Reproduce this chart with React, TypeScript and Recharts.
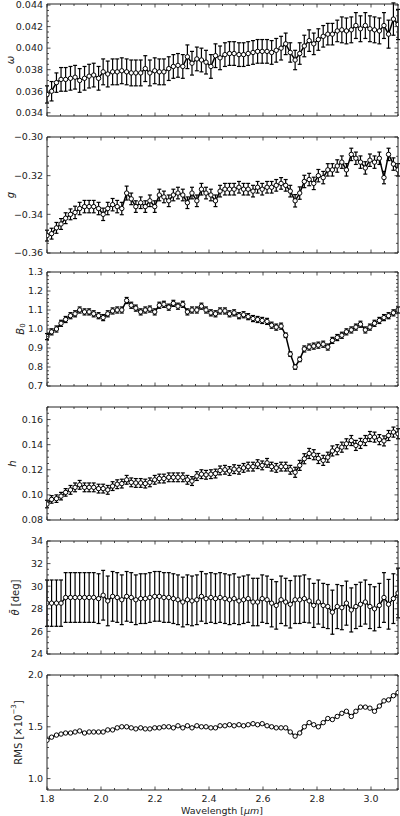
import React from "react";
import { LineChart, Line, XAxis, YAxis, ErrorBar } from "recharts";

// wavelength grid (µm)
const wavelength = [
  1.8, 1.817, 1.835, 1.852, 1.869, 1.887, 1.904, 1.921, 1.939, 1.956,
  1.973, 1.991, 2.008, 2.025, 2.043, 2.06, 2.077, 2.095, 2.112, 2.129,
  2.147, 2.164, 2.181, 2.199, 2.216, 2.233, 2.251, 2.268, 2.285, 2.303,
  2.32, 2.337, 2.355, 2.372, 2.389, 2.407, 2.424, 2.441, 2.459, 2.476,
  2.493, 2.511, 2.528, 2.545, 2.563, 2.58, 2.597, 2.615, 2.632, 2.649,
  2.667, 2.684, 2.701, 2.719, 2.736, 2.753, 2.771, 2.788, 2.805, 2.823,
  2.84, 2.857, 2.875, 2.892, 2.909, 2.927, 2.944, 2.961, 2.979, 2.996,
  3.013, 3.031, 3.048, 3.065, 3.083, 3.1,
];

const omega = [
  0.0357, 0.036, 0.0368, 0.0371, 0.0371, 0.0372, 0.0373, 0.037, 0.0372, 0.0374,
  0.0375, 0.0372, 0.0378, 0.0376, 0.0378, 0.0378, 0.0379, 0.0378, 0.0377, 0.0377,
  0.0377, 0.0381, 0.0377, 0.0379, 0.0378, 0.0378, 0.0381, 0.0383, 0.0384, 0.0383,
  0.0392, 0.0386, 0.039, 0.0389, 0.0387, 0.0383, 0.0393, 0.0391, 0.0394, 0.0395,
  0.0395, 0.0394, 0.0394, 0.0395, 0.0396, 0.0397, 0.0397, 0.0397, 0.0396, 0.0398,
  0.04, 0.0404, 0.0396, 0.0389, 0.0395, 0.0402, 0.0407, 0.0404, 0.0408, 0.0411,
  0.0413, 0.0413, 0.0416, 0.0417, 0.0416, 0.0417, 0.0421, 0.0418, 0.0421, 0.0418,
  0.0417, 0.0416, 0.0421, 0.0413, 0.0427, 0.0422,
];
const omegaErr = [
  0.0008, 0.0009, 0.0009, 0.0011, 0.0011, 0.0011, 0.0011, 0.0011, 0.0011, 0.0011,
  0.0011, 0.0011, 0.0012, 0.0012, 0.0012, 0.0012, 0.0012, 0.0012, 0.0012, 0.0012,
  0.0012, 0.0012, 0.0012, 0.0012, 0.0012, 0.0012, 0.0011, 0.0011, 0.0011, 0.0011,
  0.0011, 0.0011, 0.0011, 0.0011, 0.0011, 0.0011, 0.0011, 0.0011, 0.0011, 0.0011,
  0.0011, 0.0011, 0.0011, 0.0011, 0.0011, 0.0011, 0.0011, 0.0011, 0.0011, 0.0011,
  0.0011, 0.001, 0.0009, 0.0009, 0.001, 0.001, 0.001, 0.001, 0.001, 0.001,
  0.001, 0.001, 0.001, 0.0012, 0.0012, 0.0012, 0.0012, 0.0012, 0.0012, 0.0012,
  0.0012, 0.0012, 0.0012, 0.0013, 0.0015, 0.0014,
];

const gParam = [
  -0.351, -0.35, -0.347, -0.345, -0.342, -0.34, -0.339, -0.337, -0.336, -0.336,
  -0.336, -0.337, -0.34, -0.337, -0.335, -0.336, -0.337, -0.329, -0.332, -0.336,
  -0.334, -0.336, -0.333, -0.336, -0.33, -0.331, -0.333, -0.33, -0.329, -0.33,
  -0.334, -0.329, -0.333, -0.327, -0.329, -0.33, -0.333, -0.328, -0.327, -0.327,
  -0.327, -0.326, -0.327, -0.327, -0.328, -0.326, -0.327, -0.326, -0.326, -0.325,
  -0.324, -0.325, -0.328, -0.333, -0.329, -0.323, -0.322, -0.324, -0.32, -0.321,
  -0.317, -0.317, -0.315, -0.313, -0.317, -0.309, -0.311, -0.313, -0.316, -0.312,
  -0.313, -0.311, -0.321, -0.309, -0.314, -0.317,
];
const gErr = [
  0.0028, 0.0028, 0.0028, 0.0028, 0.0028, 0.0028, 0.0032, 0.0032, 0.0032, 0.0032,
  0.0032, 0.0032, 0.0032, 0.0032, 0.0032, 0.0032, 0.0032, 0.0036, 0.003, 0.003,
  0.003, 0.003, 0.003, 0.003, 0.003, 0.003, 0.003, 0.003, 0.003, 0.003,
  0.003, 0.003, 0.003, 0.003, 0.003, 0.003, 0.003, 0.003, 0.003, 0.003,
  0.003, 0.003, 0.003, 0.003, 0.003, 0.003, 0.003, 0.003, 0.003, 0.003,
  0.003, 0.003, 0.003, 0.0032, 0.0032, 0.0032, 0.0032, 0.0032, 0.0032, 0.0032,
  0.0032, 0.0032, 0.0032, 0.0032, 0.0032, 0.0032, 0.0032, 0.0032, 0.0032, 0.0032,
  0.0032, 0.0032, 0.0032, 0.0032, 0.0032, 0.0032,
];

const b0 = [
  0.96, 0.985, 1.0, 1.03, 1.05, 1.07, 1.08, 1.1, 1.09, 1.09,
  1.08, 1.07, 1.06, 1.08, 1.095, 1.1, 1.1, 1.15, 1.125, 1.11,
  1.09, 1.1, 1.105, 1.09, 1.125, 1.13, 1.115, 1.135, 1.12, 1.13,
  1.09, 1.1, 1.1, 1.12, 1.1, 1.085, 1.08, 1.095, 1.095, 1.08,
  1.085, 1.07, 1.075, 1.065, 1.055, 1.05, 1.045, 1.04, 1.02, 1.01,
  1.015, 0.967, 0.868, 0.8, 0.84, 0.895, 0.905, 0.91, 0.915, 0.92,
  0.905, 0.94, 0.955, 0.967, 0.985, 0.995, 1.01, 1.025, 0.995, 1.01,
  1.03, 1.045, 1.06, 1.07, 1.085, 1.1,
];
const b0Err = [
  0.016, 0.016, 0.016, 0.016, 0.016, 0.016, 0.016, 0.016, 0.016, 0.016,
  0.016, 0.016, 0.016, 0.016, 0.016, 0.016, 0.016, 0.016, 0.016, 0.016,
  0.016, 0.016, 0.016, 0.016, 0.016, 0.016, 0.016, 0.016, 0.016, 0.016,
  0.016, 0.016, 0.016, 0.016, 0.016, 0.016, 0.016, 0.016, 0.016, 0.016,
  0.016, 0.016, 0.016, 0.016, 0.016, 0.016, 0.016, 0.016, 0.016, 0.016,
  0.016, 0.012, 0.012, 0.012, 0.012, 0.016, 0.016, 0.016, 0.016, 0.016,
  0.016, 0.016, 0.016, 0.016, 0.016, 0.016, 0.016, 0.016, 0.016, 0.016,
  0.016, 0.016, 0.016, 0.016, 0.016, 0.016,
];

const hParam = [
  0.0927, 0.0964, 0.097, 0.099, 0.102, 0.104, 0.106, 0.108, 0.106, 0.106,
  0.106, 0.105, 0.105, 0.104, 0.107, 0.1085, 0.109, 0.112, 0.11, 0.1095,
  0.1095, 0.109, 0.11, 0.112, 0.113, 0.113, 0.114, 0.114, 0.114, 0.114,
  0.112, 0.111, 0.115, 0.1165, 0.116, 0.1165, 0.117, 0.1195, 0.12, 0.119,
  0.1205, 0.12, 0.1215, 0.1225, 0.1225, 0.1245, 0.1235, 0.1255, 0.1225, 0.1215,
  0.1225, 0.1225, 0.12, 0.118, 0.1235, 0.1288, 0.133, 0.132, 0.129, 0.1275,
  0.13, 0.135, 0.136, 0.138, 0.1407, 0.1433, 0.1394, 0.141, 0.1433, 0.1465,
  0.146, 0.144, 0.143, 0.1473, 0.15, 0.1487,
];
const hErr = [
  0.003, 0.003, 0.003, 0.003, 0.003, 0.0035, 0.0035, 0.0035, 0.0035, 0.0035,
  0.0035, 0.0035, 0.0035, 0.0035, 0.0035, 0.0035, 0.0035, 0.0035, 0.0035, 0.0035,
  0.0035, 0.0035, 0.0035, 0.0035, 0.0035, 0.0035, 0.0035, 0.0035, 0.0035, 0.0035,
  0.0035, 0.0035, 0.0035, 0.0035, 0.0035, 0.0035, 0.0035, 0.0035, 0.0035, 0.0035,
  0.0035, 0.0035, 0.0035, 0.0035, 0.0035, 0.0035, 0.0035, 0.0035, 0.0035, 0.0035,
  0.0035, 0.0035, 0.0035, 0.004, 0.004, 0.004, 0.004, 0.004, 0.004, 0.004,
  0.004, 0.004, 0.004, 0.004, 0.004, 0.004, 0.004, 0.004, 0.004, 0.004,
  0.004, 0.004, 0.004, 0.004, 0.004, 0.004,
];

const theta = [
  28.5, 28.5, 28.5, 28.5, 29.0, 29.0, 29.0, 29.0, 29.0, 29.0,
  29.0, 28.9, 29.2, 28.7, 29.1, 29.0, 28.8, 29.1, 29.0, 28.8,
  28.9, 28.9, 29.0, 29.1, 29.1, 29.0, 29.0, 28.9, 28.8, 28.6,
  28.8, 28.7, 28.8, 29.1, 28.9, 29.0, 28.9, 29.0, 28.9, 28.8,
  28.9, 28.7, 28.8, 28.9, 28.6, 28.6, 28.9, 28.8, 28.5, 28.3,
  28.8, 28.6, 28.4, 28.8, 28.8, 28.9, 28.7, 28.3, 28.6, 28.3,
  28.2, 27.7, 28.2, 28.1, 28.5, 27.9, 28.2, 28.4, 28.6, 28.2,
  28.0, 28.3, 29.0, 28.4, 28.9, 29.4,
];
const thetaErr = [
  2.05, 2.05, 2.05, 2.05, 2.2, 2.2, 2.2, 2.2, 2.2, 2.2,
  2.2, 2.2, 2.2, 2.2, 2.2, 2.2, 2.2, 2.2, 2.2, 2.2,
  2.2, 2.2, 2.2, 2.2, 2.2, 2.2, 2.2, 2.2, 2.2, 2.2,
  2.2, 2.2, 2.2, 2.2, 2.2, 2.2, 2.2, 2.2, 2.2, 2.2,
  2.2, 2.1, 2.1, 2.1, 2.1, 2.1, 2.1, 2.1, 2.1, 2.1,
  2.1, 2.1, 2.1, 2.1, 2.1, 2.1, 1.95, 1.95, 1.95, 1.95,
  1.95, 1.95, 1.95, 1.95, 1.95, 1.95, 1.95, 1.95, 1.95, 1.95,
  1.95, 1.95, 2.2, 2.2, 2.2, 2.2,
];

// RMS in units of 1e-3
const rms = [
  1.37, 1.4, 1.42, 1.43, 1.44, 1.44, 1.45, 1.46, 1.44, 1.45,
  1.45, 1.45, 1.45, 1.47, 1.47, 1.49, 1.5, 1.5, 1.49, 1.48,
  1.49, 1.48, 1.48, 1.49, 1.49, 1.5, 1.5, 1.49, 1.51, 1.49,
  1.51, 1.49, 1.51, 1.5, 1.5, 1.49, 1.49, 1.51, 1.51, 1.52,
  1.51, 1.52, 1.51, 1.52, 1.53, 1.52, 1.53, 1.51, 1.5, 1.49,
  1.49, 1.49, 1.45, 1.41, 1.44, 1.5, 1.54, 1.52, 1.5, 1.54,
  1.58, 1.57, 1.6, 1.63, 1.65, 1.6, 1.65, 1.69, 1.69, 1.68,
  1.65, 1.7, 1.75, 1.76, 1.8, 1.83,
];

const rows = wavelength.map((wl, i) => ({
  wl,
  omega: omega[i],
  omegaErr: omegaErr[i],
  g: gParam[i],
  gErr: gErr[i],
  b0: b0[i],
  b0Err: b0Err[i],
  h: hParam[i],
  hErr: hErr[i],
  theta: theta[i],
  thetaErr: thetaErr[i],
  rms: rms[i],
}));

const FONT = "'DejaVu Sans', sans-serif";
const INK = "#222";

const steps = (a: number, b: number, s: number) => {
  const n = Math.round((b - a) / s);
  return Array.from({ length: n + 1 }, (_, i) => Number((a + i * s).toFixed(6)));
};

const xMajor = steps(1.8, 3.0, 0.2);
const xTicks = steps(1.8, 3.1, 0.05);

const minus = (s: string) => s.replace("-", "\u2212");

const panels = [
  {
    key: "omega", err: "omegaErr", top: 4, h: 112, domain: [0.0337, 0.0441],
    major: steps(0.034, 0.044, 0.002), ticks: steps(0.034, 0.044, 0.0005),
    fmt: (v: number) => v.toFixed(3), labelX: 10,
    label: <tspan fontStyle="italic">ω</tspan>,
  },
  {
    key: "g", err: "gErr", top: 137, h: 116, domain: [-0.36, -0.3],
    major: steps(-0.36, -0.3, 0.02), ticks: steps(-0.36, -0.3, 0.005),
    fmt: (v: number) => minus(v.toFixed(2)), labelX: 10,
    label: <tspan fontStyle="italic">g</tspan>,
  },
  {
    key: "b0", err: "b0Err", top: 272, h: 114, domain: [0.7, 1.3],
    major: steps(0.7, 1.3, 0.1), ticks: steps(0.7, 1.3, 0.02),
    fmt: (v: number) => v.toFixed(1), labelX: 20,
    label: (
      <>
        <tspan fontStyle="italic">B</tspan>
        <tspan dy={2.5} fontSize={7}>0</tspan>
      </>
    ),
  },
  {
    key: "h", err: "hErr", top: 407, h: 113, domain: [0.08, 0.17],
    major: steps(0.08, 0.16, 0.02), ticks: steps(0.08, 0.17, 0.005),
    fmt: (v: number) => v.toFixed(2), labelX: 12,
    label: <tspan fontStyle="italic">h</tspan>,
  },
  {
    key: "theta", err: "thetaErr", top: 541, h: 113, domain: [24, 34],
    major: steps(24, 34, 2), ticks: steps(24, 34, 0.5),
    fmt: (v: number) => v.toFixed(0), labelX: 15,
    label: (
      <>
        <tspan fontStyle="italic">θ̄</tspan>
        <tspan> [deg]</tspan>
      </>
    ),
  },
  {
    key: "rms", err: null, top: 675, h: 115, domain: [0.89, 2.0],
    major: [1.0, 1.5, 2.0], ticks: steps(0.9, 2.0, 0.1),
    fmt: (v: number) => v.toFixed(1), labelX: 18,
    label: (
      <>
        <tspan>RMS [×10</tspan>
        <tspan dy={-4} fontSize={7}>−3</tspan>
        <tspan dy={4}>]</tspan>
      </>
    ),
  },
];

const isMajor = (majors: number[], v: number) =>
  majors.some((m) => Math.abs(m - v) < 1e-7);

const makeTick =
  (side: string, majors: number[], fmt?: (v: number) => string) =>
  (props: any) => {
    const { x, y, payload } = props;
    const v = payload.value;
    const major = isMajor(majors, v);
    const len = major ? 3.5 : 2;
    let line;
    let label = null;
    if (side === "bottom") {
      line = <line x1={x} x2={x} y1={y} y2={y - len} />;
      if (fmt && major)
        label = (
          <text x={x} y={y + 12} textAnchor="middle" stroke="none" fill={INK}>
            {fmt(v)}
          </text>
        );
    } else if (side === "top") {
      line = <line x1={x} x2={x} y1={y} y2={y + len} />;
    } else if (side === "left") {
      line = <line x1={x} x2={x + len} y1={y} y2={y} />;
      if (fmt && major)
        label = (
          <text x={x - 4} y={y} dy="0.35em" textAnchor="end" stroke="none" fill={INK}>
            {fmt(v)}
          </text>
        );
    } else {
      line = <line x1={x} x2={x - len} y1={y} y2={y} />;
    }
    return (
      <g stroke={INK} strokeWidth={0.8} fontSize={9.5} fontFamily={FONT}>
        {line}
        {label}
      </g>
    );
  };

const PAD_T = 10;

const Panel = ({ p, last }: { p: any; last: boolean }) => {
  const padB = last ? 30 : 8;
  const height = PAD_T + p.h + padB;
  const axisLine = { stroke: INK, strokeWidth: 1 };
  return (
    <div style={{ position: "absolute", left: 0, top: p.top - PAD_T }}>
      <LineChart
        width={400}
        height={height}
        data={rows}
        margin={{ top: PAD_T - 1, right: 1, bottom: padB - 1, left: 0 }}
      >
        <XAxis
          xAxisId="b"
          dataKey="wl"
          type="number"
          domain={[1.8, 3.1]}
          allowDataOverflow
          ticks={xTicks}
          interval={0}
          height={1}
          tickSize={0}
          tickMargin={0}
          tickLine={false}
          axisLine={axisLine}
          tick={makeTick("bottom", xMajor, last ? (v: number) => v.toFixed(1) : undefined)}
        />
        <XAxis
          xAxisId="t"
          orientation="top"
          dataKey="wl"
          type="number"
          domain={[1.8, 3.1]}
          allowDataOverflow
          ticks={xTicks}
          interval={0}
          height={1}
          tickSize={0}
          tickMargin={0}
          tickLine={false}
          axisLine={axisLine}
          tick={makeTick("top", xMajor)}
        />
        <YAxis
          yAxisId="l"
          type="number"
          domain={p.domain}
          allowDataOverflow
          ticks={p.ticks}
          interval={0}
          width={47}
          tickSize={0}
          tickMargin={0}
          tickLine={false}
          axisLine={axisLine}
          tick={makeTick("left", p.major, p.fmt)}
          label={() => (
            <text
              transform={`translate(${p.labelX},${PAD_T + p.h / 2}) rotate(-90)`}
              textAnchor="middle"
              dominantBaseline="central"
              fontSize={10}
              fontFamily={FONT}
              fill={INK}
            >
              {p.label}
            </text>
          )}
        />
        <YAxis
          yAxisId="r"
          orientation="right"
          type="number"
          domain={p.domain}
          allowDataOverflow
          ticks={p.ticks}
          interval={0}
          width={1}
          tickSize={0}
          tickMargin={0}
          tickLine={false}
          axisLine={axisLine}
          tick={makeTick("right", p.major)}
        />
        <Line
          xAxisId="b"
          yAxisId="l"
          type="linear"
          dataKey={p.key}
          stroke="#000"
          strokeWidth={1.5}
          dot={{ r: 2.2, fill: "#fff", stroke: "#000", strokeWidth: 1 }}
          activeDot={false}
          isAnimationActive={false}
        >
          {p.err ? (
            <ErrorBar
              dataKey={p.err}
              direction="y"
              width={2}
              stroke="#000"
              strokeWidth={1.2}
              isAnimationActive={false}
            />
          ) : null}
        </Line>
        {last ? (
          <text
            x={222}
            y={PAD_T + p.h + 24}
            textAnchor="middle"
            fontSize={9.5}
            fontFamily={FONT}
            fill={INK}
          >
            <tspan>Wavelength [</tspan>
            <tspan fontStyle="italic">µm</tspan>
            <tspan>]</tspan>
          </text>
        ) : null}
      </LineChart>
    </div>
  );
};

export default function App() {
  return (
    <div
      style={{
        position: "absolute",
        left: 0,
        top: 0,
        width: 400,
        height: 816,
        background: "#fff",
      }}
    >
      {panels.map((p, i) => (
        <Panel key={p.key} p={p} last={i === panels.length - 1} />
      ))}
    </div>
  );
}
